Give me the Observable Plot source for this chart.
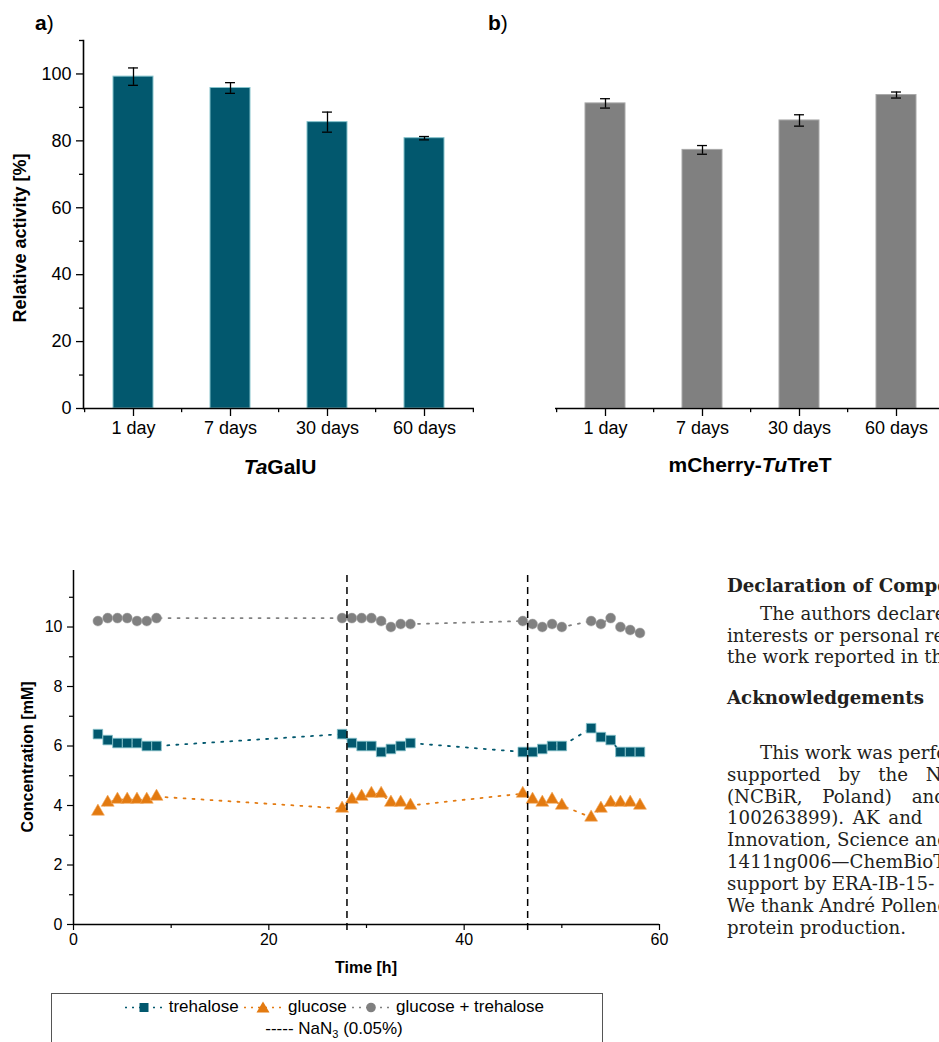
<!DOCTYPE html>
<html><head><meta charset="utf-8">
<script src="https://cdn.jsdelivr.net/npm/d3@7"></script>
<script src="https://cdn.jsdelivr.net/npm/@observablehq/plot@0.6"></script>
<style>
html,body{margin:0;padding:0;background:#fff;}
#page{position:relative;width:939px;height:1042px;overflow:hidden;background:#fff;font-family:"Liberation Sans",Arial,sans-serif;color:#000;}
.abs{position:absolute;}
.abs svg{max-width:none !important;}
.panel-tag{font-size:21px;line-height:1;}
.axis-title{position:absolute;white-space:nowrap;font-weight:bold;transform:translate(-50%,-50%);}
.rot{transform:translate(-50%,-50%) rotate(-90deg);}
#legend{position:absolute;left:51px;top:993px;width:552px;height:70px;border:1.3px solid #555;box-sizing:border-box;font-size:17px;}
#legend .row{position:absolute;left:0;width:100%;text-align:center;white-space:nowrap;}
#legend svg{vertical-align:middle;}
.col{position:absolute;left:727px;white-space:nowrap;font-family:"DejaVu Serif",serif;font-size:18.2px;color:#231f20;line-height:22px;}
</style></head>
<body><div id="page">
  <div class="abs panel-tag" style="left:35px;top:12px;"><b>a</b>)</div>
  <div class="abs panel-tag" style="left:488px;top:12px;"><b>b</b>)</div>
  <div id="panelA" class="abs" style="left:0;top:0;width:480px;height:490px;"></div>
  <div id="panelB" class="abs" style="left:472px;top:0;width:480px;height:490px;"></div>
  <div class="axis-title rot" style="left:20px;top:238px;font-size:18px;">Relative activity [%]</div>
  <div class="axis-title" style="left:280px;top:467px;font-size:21px;"><i>Ta</i>GalU</div>
  <div class="axis-title" style="left:750px;top:465px;font-size:21px;">mCherry-<i>Tu</i>TreT</div>
  <div id="timecourse" class="abs" style="left:0;top:550px;width:700px;height:430px;"></div>
  <div class="axis-title rot" style="left:28px;top:757px;font-size:16px;">Concentration [mM]</div>
  <div class="axis-title" style="left:366px;top:968px;font-size:16px;">Time [h]</div>
  <div id="legend"></div>
  <div id="column"></div>
</div>
<script>
// ---- data: panel a / b (relative activity after storage) ----
const categories = ["1 day", "7 days", "30 days", "60 days"];
const tagaluActivity = [99.2, 95.8, 85.6, 80.8];
const tagaluError = [2.6, 1.6, 3.0, 0.5];
const tretActivity = [91.2, 77.3, 86.1, 93.7];
const tretError = [1.4, 1.3, 1.7, 0.9];
const activityTicks = [0, 20, 40, 60, 80, 100];
const activityMinorTicks = [10, 30, 50, 70, 90, 110];

// ---- data: time course ----
const timeH = [2.5, 3.5, 4.5, 5.5, 6.5, 7.5, 8.5,
  27.5, 28.5, 29.5, 30.5, 31.5, 32.5, 33.5, 34.5,
  46, 47, 48, 49, 50,
  53, 54, 55, 56, 57, 58];
const trehalose = [6.4, 6.2, 6.1, 6.1, 6.1, 6.0, 6.0,
  6.4, 6.1, 6.0, 6.0, 5.8, 5.9, 6.0, 6.1,
  5.8, 5.8, 5.9, 6.0, 6.0,
  6.6, 6.3, 6.2, 5.8, 5.8, 5.8];
const glucose = [3.8, 4.1, 4.2, 4.2, 4.2, 4.2, 4.3,
  3.9, 4.2, 4.3, 4.4, 4.4, 4.1, 4.1, 4.0,
  4.4, 4.2, 4.1, 4.2, 4.0,
  3.6, 3.9, 4.1, 4.1, 4.1, 4.0];
const glucoseTrehalose = [10.2, 10.3, 10.3, 10.3, 10.2, 10.2, 10.3,
  10.3, 10.3, 10.3, 10.3, 10.2, 10.0, 10.1, 10.1,
  10.2, 10.1, 10.0, 10.1, 10.0,
  10.2, 10.1, 10.3, 10.0, 9.9, 9.8];
const nan3Times = [28, 46.5];
const timeTicks = [0, 20, 40, 60];
const timeMinorTicks = [10, 30, 50];
const concTicks = [0, 2, 4, 6, 8, 10];
const concMinorTicks = [1, 3, 5, 7, 9, 11];
const legendLabels = ["trehalose", "glucose", "glucose + trehalose"];

// ---- colours ----
const teal = "#02586e", tealEdge = "#86c3cc";
const orange = "#e37a10", orangeEdge = "#f3a85a";
const grey = "#808080", greyEdge = "#a8a8a8";

const svgStyle = (size) => ({fontFamily: "'Liberation Sans', Arial, sans-serif", fontSize: size, color: "#000", background: "transparent", overflow: "visible", maxWidth: "none"});

// ---- bar panels ----
const barLayout = {width: 480, height: 490, marginLeft: 83, marginRight: 6, marginTop: 40, marginBottom: 82, paddingInner: 0.59, paddingOuter: 0.295};
function barPanel(values, errors, fill, edge, withYAxis) {
  const rows = categories.map((category, i) => ({category, value: values[i], low: values[i] - errors[i], high: values[i] + errors[i]}));
  const inner = barLayout.width - barLayout.marginLeft - barLayout.marginRight;
  const step = inner / (categories.length - barLayout.paddingInner + 2 * barLayout.paddingOuter);
  const bandwidth = step * (1 - barLayout.paddingInner);
  const capInset = (bandwidth - 10) / 2;
  const last = categories.slice(-1);
  const marks = [
    Plot.barY(rows, {x: "category", y: "value", fill, stroke: edge, strokeWidth: 1}),
    Plot.ruleX(rows, {x: "category", y1: "low", y2: "high", stroke: "#000", strokeWidth: 1.3}),
    Plot.tickY(rows, {x: "category", y: "low", insetLeft: capInset, insetRight: capInset, stroke: "#000", strokeWidth: 1.3}),
    Plot.tickY(rows, {x: "category", y: "high", insetLeft: capInset, insetRight: capInset, stroke: "#000", strokeWidth: 1.3}),
    Plot.ruleY([0], {stroke: "#000", strokeWidth: 1.6}),
    Plot.axisX({tickSize: 8, tickPadding: 5, strokeWidth: 1.3, fill: "#000", label: null}),
    Plot.ruleX(categories, {x: d => d, y1: 0, y2: -1.25, dx: -step / 2, stroke: "#000", strokeWidth: 1.3}),
    Plot.ruleX(last, {x: d => d, y1: 0, y2: -1.25, dx: step / 2, stroke: "#000", strokeWidth: 1.3})
  ];
  if (withYAxis) {
    marks.push(
      Plot.frame({anchor: "left", stroke: "#000", strokeWidth: 1.6}),
      Plot.axisY(activityTicks, {tickSize: 7, tickPadding: 5, strokeWidth: 1.3, fill: "#000", label: null}),
      Plot.axisY(activityMinorTicks, {tickSize: 4, tickFormat: () => "", strokeWidth: 1.3, label: null})
    );
  }
  return Plot.plot({
    width: barLayout.width, height: barLayout.height,
    marginLeft: barLayout.marginLeft, marginRight: barLayout.marginRight,
    marginTop: barLayout.marginTop, marginBottom: barLayout.marginBottom,
    style: svgStyle("18px"),
    x: {domain: categories, paddingInner: barLayout.paddingInner, paddingOuter: barLayout.paddingOuter, label: null, axis: null},
    y: {domain: [0, 110], label: null, axis: null},
    marks
  });
}
document.getElementById("panelA").append(barPanel(tagaluActivity, tagaluError, teal, tealEdge, true));
document.getElementById("panelB").append(barPanel(tretActivity, tretError, grey, greyEdge, false));

// ---- time course ----
const rows = timeH.map((time, i) => ({time, trehalose: trehalose[i], glucose: glucose[i], total: glucoseTrehalose[i]}));
const dotted = {strokeWidth: 1.8, strokeDasharray: "2 7", strokeLinecap: "round"};
const timecourse = Plot.plot({
  width: 700, height: 430, marginLeft: 73, marginRight: 41, marginTop: 20, marginBottom: 56,
  style: svgStyle("16px"),
  x: {domain: [0, 60], axis: null, label: null},
  y: {domain: [0, 11.9], axis: null, label: null},
  marks: [
    Plot.line(rows, {x: "time", y: "trehalose", stroke: teal, ...dotted}),
    Plot.line(rows, {x: "time", y: "glucose", stroke: orange, ...dotted}),
    Plot.line(rows, {x: "time", y: "total", stroke: grey, ...dotted}),
    Plot.dot(rows, {x: "time", y: "trehalose", symbol: "square", r: 5.4, fill: teal, stroke: tealEdge, strokeWidth: 0.8}),
    Plot.dot(rows, {x: "time", y: "glucose", symbol: "triangle", r: 4.8, fill: orange, stroke: orangeEdge, strokeWidth: 0.6}),
    Plot.dot(rows, {x: "time", y: "total", symbol: "circle", r: 5, fill: grey, stroke: greyEdge, strokeWidth: 0.5}),
    Plot.ruleY([0], {stroke: "#000", strokeWidth: 1.5}),
    Plot.ruleX([0], {stroke: "#000", strokeWidth: 1.5}),
    Plot.axisX(timeTicks, {tickSize: 6, tickPadding: 3, strokeWidth: 1.2, fill: "#000", label: null}),
    Plot.axisX(timeMinorTicks, {tickSize: 4, tickFormat: () => "", strokeWidth: 1.2, label: null}),
    Plot.axisY(concTicks, {tickSize: 6, tickPadding: 5, strokeWidth: 1.2, fill: "#000", label: null}),
    Plot.axisY(concMinorTicks, {tickSize: 4, tickFormat: () => "", strokeWidth: 1.2, label: null}),
    Plot.ruleX(nan3Times, {stroke: "#000", strokeWidth: 1.5, strokeDasharray: "7 5", insetTop: 5, insetBottom: -8})
  ]
});
document.getElementById("timecourse").append(timecourse);

// ---- legend ----
function swatch(color, marker) {
  const shapes = {
    square: `<rect x="15.5" y="3" width="9" height="9" fill="${color}"/>`,
    triangle: `<path d="M20,1.5 L26.5,12.5 L13.5,12.5 Z" fill="${color}"/>`,
    circle: `<circle cx="20" cy="7.5" r="4.8" fill="${color}"/>`
  };
  return `<svg width="40" height="15" viewBox="0 0 40 15"><line x1="1" y1="7.5" x2="39" y2="7.5" stroke="${color}" stroke-width="1.6" stroke-dasharray="2 5"/>${shapes[marker]}</svg>`;
}
const legend = document.getElementById("legend");
legend.innerHTML =
  `<div class="row" style="top:3px;padding-left:14px;box-sizing:border-box;">${swatch(teal, "square")} ${legendLabels[0]} ${swatch(orange, "triangle")} ${legendLabels[1]} ${swatch(grey, "circle")} ${legendLabels[2]}</div>` +
  `<div class="row" style="top:25px;padding-left:14px;box-sizing:border-box;">----- NaN<sub style="font-size:11px;">3</sub> (0.05%)</div>`;

// ---- neighbouring text column ----
const columnLines = [
  {text: "Declaration of Competing Interest", y: 586, bold: true},
  {text: "The authors declare that", y: 614, indent: 33},
  {text: "interests or personal relationships", y: 636},
  {text: "the work reported in this paper.", y: 657},
  {text: "Acknowledgements", y: 698, bold: true},
  {text: "This work was performed", y: 753, indent: 33},
  {text: "supported by the National", y: 775, ws: 12},
  {text: "(NCBiR, Poland) and", y: 797, ws: 14},
  {text: "100263899). AK and", y: 818, ws: 3},
  {text: "Innovation, Science and", y: 840},
  {text: "1411ng006\u2014ChemBioTec", y: 862},
  {text: "support by ERA-IB-15-", y: 884},
  {text: "We thank Andr\u00e9 Pollender", y: 906},
  {text: "protein production.", y: 928}
];
const column = document.getElementById("column");
for (const line of columnLines) {
  const div = document.createElement("div");
  div.className = "col";
  div.textContent = line.text;
  div.style.top = (line.y - 11) + "px";
  if (line.indent) div.style.left = (727 + line.indent) + "px";
  if (line.bold) div.style.fontWeight = "bold";
  if (line.ws) div.style.wordSpacing = line.ws + "px";
  column.append(div);
}
</script>
</body></html>
